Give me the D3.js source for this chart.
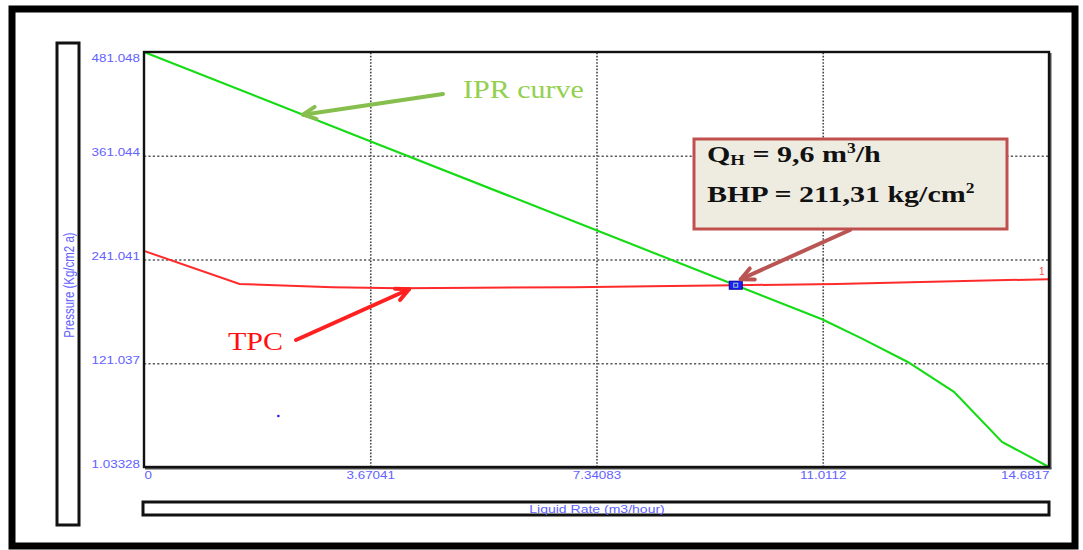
<!DOCTYPE html>
<html><head><meta charset="utf-8">
<script src="https://cdn.jsdelivr.net/npm/d3@7"></script>
<style>
html,body{margin:0;padding:0;background:#fff;}
svg{display:block;}
</style></head><body>
<svg id="chart" width="1083" height="550"></svg>
<script>
// Axis ticks: liquid rate (m3/hour) and pressure (Kg/cm2 a)
const xTicks = [0, 3.67041, 7.34083, 11.0112, 14.6817];
const xTickLabels = ["0", "3.67041", "7.34083", "11.0112", "14.6817"];
const yTicks = [1.03328, 121.037, 241.041, 361.044, 481.048];
const yTickLabels = ["1.03328", "121.037", "241.041", "361.044", "481.048"];

// Inflow performance (IPR) curve
const iprRate     = [0, 3.67, 7.34, 9.6, 11.0, 11.65, 12.39, 13.14, 13.92, 14.6817];
const iprPressure = [481.048, 377.9, 274.8, 211.31, 172.0, 149.5, 122.5, 88.0, 30.0, 1.03328];

// Tubing performance (TPC) curve
const tpcRate     = [0, 1.55, 3.06, 4.15, 5.41, 6.97, 8.54, 9.6, 11.23, 14.6817];
const tpcPressure = [251.0, 212.7, 208.9, 207.7, 208.5, 208.9, 210.5, 211.31, 212.7, 218.3];

// Operating point and a stray plotted point
const opRate = 9.6, opPressure = 211.31;
const strayRate = [2.18], strayPressure = [60.0];

const svg = d3.select("#chart");
const plot = {left: 144, right: 1049, top: 52, bottom: 467};
const x = d3.scaleLinear().domain([0, 14.6817]).range([plot.left, plot.right]);
const y = d3.scaleLinear().domain([1.03328, 481.048]).range([plot.bottom, plot.top]);

const tickColor = "#6262ff";
const SX = 1.22; // horizontal text stretch

function stretch(sel, sx) {
  sel.each(function () {
    const t = d3.select(this);
    const x0 = +t.attr("x") || 0, y0 = +t.attr("y") || 0;
    t.attr("x", 0).attr("y", 0).attr("transform", `translate(${x0},${y0}) scale(${sx},1)`);
  });
}

// Outer frame
svg.append("rect").attr("x", 12).attr("y", 9).attr("width", 1063).attr("height", 537)
  .attr("fill", "#fff").attr("stroke", "#000").attr("stroke-width", 7);

// Y title box
svg.append("rect").attr("x", 57).attr("y", 43).attr("width", 22).attr("height", 482)
  .attr("fill", "#fff").attr("stroke", "#111").attr("stroke-width", 3);
svg.append("text")
  .attr("transform", "translate(69,285) scale(1.25,1) rotate(-90)")
  .attr("text-anchor", "middle").attr("dy", "0.35em")
  .attr("font-family", "Liberation Sans, Arial, sans-serif").attr("font-size", 11.5)
  .attr("fill", tickColor).text("Pressure  (Kg/cm2 a)");

// X title box
svg.append("rect").attr("x", 143).attr("y", 502).attr("width", 906).attr("height", 13)
  .attr("fill", "#fff").attr("stroke", "#111").attr("stroke-width", 3);
svg.append("text").attr("x", 597).attr("y", 513).attr("text-anchor", "middle")
  .attr("font-family", "Liberation Sans, Arial, sans-serif").attr("font-size", 11.5)
  .attr("fill", tickColor).text("Liquid Rate  (m3/hour)")
  .call(stretch, SX);

// Gridlines
svg.append("g").attr("transform", `translate(0,${plot.bottom})`)
  .call(d3.axisBottom(x).tickValues(xTicks.slice(1, -1)).tickSize(-(plot.bottom - plot.top)).tickFormat(""))
  .call(g => g.select(".domain").remove())
  .selectAll("line").attr("stroke", "#444").attr("stroke-width", 1.6).attr("stroke-dasharray", "1.6,1.6");
svg.append("g").attr("transform", `translate(${plot.left},0)`)
  .call(d3.axisLeft(y).tickValues(yTicks.slice(1, -1)).tickSize(-(plot.right - plot.left)).tickFormat(""))
  .call(g => g.select(".domain").remove())
  .selectAll("line").attr("stroke", "#5a5a5a").attr("stroke-width", 1.4).attr("stroke-dasharray", "2.2,2.2");

// Tick labels
const yAxisG = svg.append("g").attr("transform", `translate(${plot.left},0)`)
  .call(d3.axisLeft(y).tickValues(yTicks).tickFormat((d, i) => yTickLabels[i]).tickSize(0).tickPadding(4))
  .call(g => g.select(".domain").remove());
yAxisG.selectAll("text")
  .attr("font-family", "Liberation Sans, Arial, sans-serif").attr("font-size", 11).attr("fill", tickColor)
  .attr("dy", (d, i) => i === yTicks.length - 1 ? "0.85em" : "0")
  .call(stretch, SX);

const xAxisG = svg.append("g").attr("transform", `translate(0,${plot.bottom})`)
  .call(d3.axisBottom(x).tickValues(xTicks).tickFormat((d, i) => xTickLabels[i]).tickSize(0).tickPadding(4))
  .call(g => g.select(".domain").remove());
xAxisG.selectAll("text")
  .attr("font-family", "Liberation Sans, Arial, sans-serif").attr("font-size", 11).attr("fill", tickColor)
  .attr("text-anchor", (d, i) => i === 0 ? "start" : (i === xTicks.length - 1 ? "end" : "middle"))
  .call(stretch, SX);

// Curves
const line = d3.line().x(d => x(d[0])).y(d => y(d[1]));
const tpc = tpcRate.map((q, i) => [q, tpcPressure[i]]);
const ipr = iprRate.map((q, i) => [q, iprPressure[i]]);
svg.append("path").datum(tpc).attr("d", line)
  .attr("fill", "none").attr("stroke", "#ff2a2a").attr("stroke-width", 2);
svg.append("path").datum(ipr).attr("d", line)
  .attr("fill", "none").attr("stroke", "#14dc14").attr("stroke-width", 2.1);

// Curve numbers
svg.append("text").attr("x", x(14.6817) - 10).attr("y", y(tpcPressure[tpcPressure.length - 1]) - 4)
  .attr("font-family", "Liberation Sans, Arial, sans-serif").attr("font-size", 10)
  .attr("fill", "#ff4a4a").text("1");

// Plot frame with shadow on right/bottom
svg.append("line").attr("x1", plot.right + 1.5).attr("x2", plot.right + 1.5).attr("y1", plot.top + 1).attr("y2", plot.bottom + 2)
  .attr("stroke", "#555").attr("stroke-width", 2);
svg.append("line").attr("x1", plot.left + 1).attr("x2", plot.right + 2.5).attr("y1", plot.bottom + 1.5).attr("y2", plot.bottom + 1.5)
  .attr("stroke", "#555").attr("stroke-width", 2);
svg.append("rect").attr("x", plot.left).attr("y", plot.top)
  .attr("width", plot.right - plot.left).attr("height", plot.bottom - plot.top)
  .attr("fill", "none").attr("stroke", "#111").attr("stroke-width", 2.4);

// Stray point
svg.selectAll(".stray").data(strayRate).enter().append("circle")
  .attr("cx", (d) => x(d)).attr("cy", (d, i) => y(strayPressure[i])).attr("r", 1.3).attr("fill", "#2222ff");

// Operating point marker
const ox = x(opRate), oy = y(opPressure);
svg.append("rect").attr("x", ox - 6.5).attr("y", oy - 4).attr("width", 13).attr("height", 8)
  .attr("fill", "#2020ff").attr("stroke", "#0000a0").attr("stroke-width", 1);
svg.append("rect").attr("x", ox - 2).attr("y", oy - 2).attr("width", 4).attr("height", 4)
  .attr("fill", "none").attr("stroke", "#a8e8a8").attr("stroke-width", 0.9);

// Annotation arrows
function arrow(x1, y1, x2, y2, color, w) {
  const g = svg.append("g").attr("stroke", color).attr("stroke-width", w)
    .attr("stroke-linecap", "round").attr("fill", "none");
  g.append("line").attr("x1", x1).attr("y1", y1).attr("x2", x2).attr("y2", y2);
  const a = Math.atan2(y2 - y1, x2 - x1), L = 14, h = Math.PI / 7;
  g.append("path").attr("stroke-linejoin", "round").attr("d",
    `M${x2 - L * Math.cos(a - h)},${y2 - L * Math.sin(a - h)} L${x2},${y2} L${x2 - L * Math.cos(a + h)},${y2 - L * Math.sin(a + h)}`);
}
const iprAt = q => { const i = d3.bisectRight(iprRate, q) - 1;
  const t = (q - iprRate[i]) / (iprRate[i + 1] - iprRate[i]);
  return iprPressure[i] + t * (iprPressure[i + 1] - iprPressure[i]); };
const tpcAt = q => { const i = d3.bisectRight(tpcRate, q) - 1;
  const t = (q - tpcRate[i]) / (tpcRate[i + 1] - tpcRate[i]);
  return tpcPressure[i] + t * (tpcPressure[i + 1] - tpcPressure[i]); };

arrow(443, 94, x(2.58), y(iprAt(2.58)), "#86bf4e", 4);
arrow(296, 340, x(4.3), y(tpcAt(4.3)) + 1, "#ff2020", 4);
arrow(850, 230, ox + 5, oy - 6, "#b95553", 4);

// Text labels
svg.append("text").attr("x", 463).attr("y", 98)
  .attr("font-family", "Liberation Serif, Times New Roman, serif").attr("font-size", 25)
  .attr("fill", "#92d050").text("IPR curve").call(stretch, 1.2);
svg.append("text").attr("x", 228).attr("y", 350)
  .attr("font-family", "Liberation Serif, Times New Roman, serif").attr("font-size", 25)
  .attr("fill", "#ff1010").text("TPC").call(stretch, 1.2);

// Callout box
svg.append("rect").attr("x", 694).attr("y", 139).attr("width", 313).attr("height", 90)
  .attr("fill", "#eeece1").attr("stroke", "#c0504d").attr("stroke-width", 3);
const t1 = svg.append("text").attr("x", 707).attr("y", 162)
  .attr("font-family", "Liberation Serif, Times New Roman, serif").attr("font-size", 24)
  .attr("font-weight", "bold").attr("fill", "#111");
t1.append("tspan").text("Q");
t1.append("tspan").attr("font-size", 15).attr("dy", 3).text("H");
t1.append("tspan").attr("dy", -3).text(" = 9,6 m");
t1.append("tspan").attr("font-size", 14).attr("dy", -9).text("3");
t1.append("tspan").attr("dy", 9).text("/h");
t1.call(stretch, 1.25);
const t2 = svg.append("text").attr("x", 707).attr("y", 202)
  .attr("font-family", "Liberation Serif, Times New Roman, serif").attr("font-size", 24)
  .attr("font-weight", "bold").attr("fill", "#111");
t2.append("tspan").text("BHP = 211,31 kg/cm");
t2.append("tspan").attr("font-size", 14).attr("dy", -9).text("2");
t2.call(stretch, 1.25);
</script>
</body></html>
